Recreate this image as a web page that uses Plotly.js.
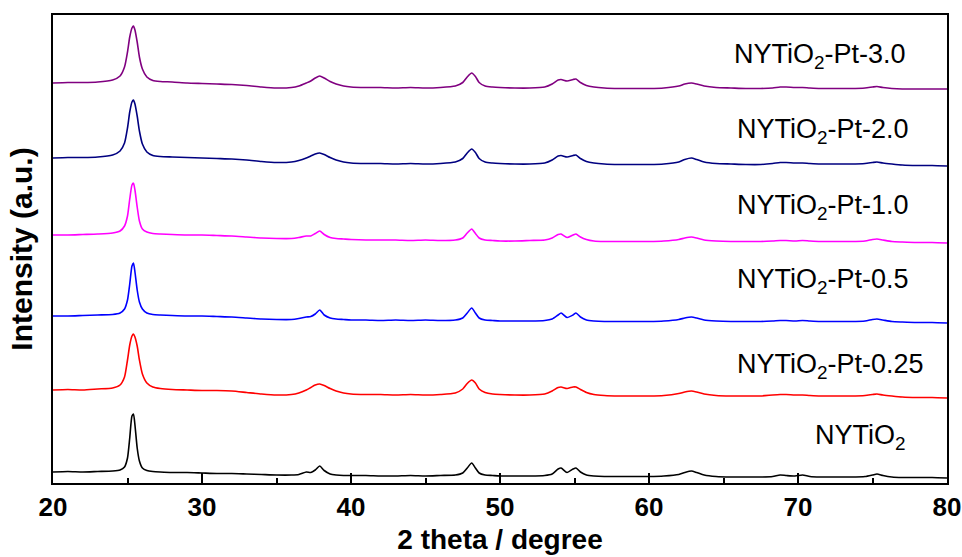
<!DOCTYPE html>
<html>
<head>
<meta charset="utf-8">
<script src="https://cdn.plot.ly/plotly-3.0.1.min.js"></script>
<style>html,body{margin:0;padding:0;background:#fff}#chart{width:962px;height:557px}</style>
</head>
<body>
<div id="chart"></div>
<script>
// 2 theta (degree)
const twoTheta = [20,21,22,23,24,24.5,24.8,25.0,25.15,25.3,25.4,25.5,25.65,25.8,26.0,26.3,26.7,27.2,28,29,30,31,32,33,34,35,36,36.5,37.0,37.3,37.6,37.9,38.2,38.6,39,39.5,40,41,42,43,44,45,46,47,47.5,47.8,48.1,48.35,48.6,49,49.5,50,51,52,53,53.5,53.9,54.1,54.5,54.9,55.1,55.4,55.8,56.3,57,58,59,60,61,62,62.4,62.85,63.2,63.7,64.5,65.5,66.5,67.5,68.3,68.8,69.2,69.8,70.3,70.8,71.5,72.5,73.5,74.5,75.0,75.3,75.7,76.3,77,78,79,80];

// Stacked intensities (a.u.)
const nytio2 = [8,8.5,8,8.5,9,10,13,22,42,64,66,55,32,19,12,9.5,8.5,8,7.5,7.5,7,6.5,6.5,6,5.5,5,5,5.5,8,7.5,10,14,9.5,6,5,4.5,4.5,4.5,4,4,4.5,4,4.5,5,7,12,17,12,7,5,4.5,4,4,4,4.5,6,11,12,7.5,11,12,8,5,4,3.5,3.5,3.5,3.5,4,5.5,7.5,9,7.5,5,3.5,3,3,3,3.5,5,4.5,4,5,3.5,3,3,3,3.5,5,6,4.5,3,2.5,2.5,2.5,2];
const pt025 = [90,90.5,90,91,92,95,103,120,135,144,146,143,134,120,106,97,93,91.5,90.5,90,89.5,89.5,89,87.5,86,85,85.5,87,90,92.5,95,96,94.5,91.5,89,87,86,85.5,85.5,85,85.5,85,85.5,87,91,96.5,100,97,91,87.5,86,85.5,85,85,86,89,92.5,93,91.5,93,93,90.5,87.5,85.5,84.5,84,84,84,84.5,86.5,88,89,88,86,84.5,84,84,84,85,85.5,85.5,85,85,84.5,84,84,84,84.5,85.5,86,85,84,83,82.5,82.5,82];
const pt05 = [164,164,164.5,165,165.5,167,171,180,196,214,217,208,190,178,171,167,165.5,165,164.5,164,164,163.5,163,162,161,160.5,160.5,161.5,163,163.5,166,170,165,162,161,160.5,160,160,159.5,160,159.5,160,159.5,160,162,167,172,167,162,160,159.5,159,159,159,159.5,161,165,167,162.5,165,167,163,160,159,158.5,158.5,158.5,158.5,159,160.5,162,163,162,160,159,158.5,158.5,158.5,159,159.5,159.5,159,159.5,159,158.5,158.5,158.5,159,160.5,161,160,158.5,158,157.5,157.5,157];
const pt10 = [245,245,245.5,246,247,249,254,264,281,295,297,290,273,259,251,248,246.5,246,245.5,245,245,244.5,244,243,242,241.5,241.5,242.5,244,244,246.5,249,245.5,242.5,241.5,241,240.5,240,240,240,239.5,240,239.5,240,242,247,251,246.5,242,240,239.5,239,239,239.5,240,242,245.5,246,242.5,245,246,243,240.5,239,238.5,238.5,238.5,238.5,239,240.5,242,243,242,240,239,238.5,238.5,238.5,239,239.5,239.5,239,239.5,239,238.5,238.5,238.5,239,240.5,241,240,238.5,238,237.5,237.5,237];
const pt20 = [322,322.5,322.5,323,325,329,337,352,368,378,380,376,364,349,336,328,324.5,323.5,323,322.5,322,321.5,321,320,318.5,317.5,318,319.5,322,324,326,327,325.5,322.5,320,318,317,316.5,316.5,316,316.5,316,316.5,318,321.5,327,331,327.5,321.5,318,317,316.5,316,316,317,320,324,324.5,323,324.5,325,321.5,318.5,317,316,315.5,315.5,315.5,316,318,320.5,322,320.5,318,316.5,316,315.5,315.5,316.5,317.5,317.5,317,317,316.5,316,316,316,316.5,317.5,318,317,316,315,314.5,314.5,314];
const pt30 = [397,397.5,397.5,398,400,404,413,428,443,452,454,450,438,423,411,403,399.5,398.5,398,397,396.5,396,395.5,394.5,393,392,392.5,394,397,399,402,404,402,398.5,396,394,393,392.5,392.5,392,392.5,392,392.5,394,397.5,403,407,403.5,397.5,394,393,392.5,392,392,393,396,400,400.5,399,400.5,401,397.5,394.5,393,392,391.5,391.5,391.5,392,394,396,397,396,394,392.5,392,391.5,391.5,392,393,393,392.5,392.5,392,391.5,391.5,391.5,392,393,393.5,392.5,391.5,391,391,391,391];

const sampleNames = ["NYTiO2","NYTiO2-Pt-0.25","NYTiO2-Pt-0.5","NYTiO2-Pt-1.0","NYTiO2-Pt-2.0","NYTiO2-Pt-3.0"];
const labelTexts = ["NYTiO<sub>2</sub>","NYTiO<sub>2</sub>-Pt-0.25","NYTiO<sub>2</sub>-Pt-0.5","NYTiO<sub>2</sub>-Pt-1.0","NYTiO<sub>2</sub>-Pt-2.0","NYTiO<sub>2</sub>-Pt-3.0"];
const series = [nytio2, pt025, pt05, pt10, pt20, pt30];
const colors = ["#000000","#ff0000","#0000ff","#ff00ff","#000080","#800080"];
const labelX = [71.0, 65.8, 65.8, 65.8, 65.8, 65.6];
const labelY = [43, 114, 199, 273, 349, 424];

const traces = series.map((ys, i) => ({
  x: twoTheta, y: ys, type: "scatter", mode: "lines", name: sampleNames[i],
  line: {color: colors[i], width: 1.6, shape: "spline", smoothing: 0.6},
  hoverinfo: "skip"
}));

const annotations = labelTexts.map((t, i) => ({
  x: labelX[i], y: labelY[i], xref: "x", yref: "y", text: t, showarrow: false,
  xanchor: "left", yanchor: "middle",
  font: {family: "Liberation Sans, Arial, sans-serif", size: 27, color: "#000"}
}));

const layout = {
  width: 962, height: 557,
  margin: {l: 53, r: 15, t: 15, b: 74},
  paper_bgcolor: "#fff", plot_bgcolor: "#fff",
  showlegend: false,
  font: {family: "Liberation Sans, Arial, sans-serif", color: "#000"},
  xaxis: {
    range: [20, 80], dtick: 10, tick0: 20,
    ticks: "inside", ticklen: 10, tickwidth: 2, tickcolor: "#000",
    minor: {dtick: 5, ticks: "inside", ticklen: 5, tickwidth: 2, tickcolor: "#000"},
    showline: true, linewidth: 2, linecolor: "#000", mirror: true,
    showgrid: false, zeroline: false,
    tickfont: {size: 26, family: "Liberation Sans, Arial, sans-serif", weight: "bold"},
    title: {text: "<b>2 theta / degree</b>", font: {size: 28}, standoff: 8}
  },
  yaxis: {
    range: [-3, 465],
    showticklabels: false, ticks: "",
    showline: true, linewidth: 2, linecolor: "#000", mirror: true,
    showgrid: false, zeroline: false,
    title: {text: "<b>Intensity (a.u.)</b>", font: {size: 30}, standoff: 10}
  },
  annotations: annotations
};

Plotly.newPlot("chart", traces, layout, {displayModeBar: false, staticPlot: true});
</script>
</body>
</html>
